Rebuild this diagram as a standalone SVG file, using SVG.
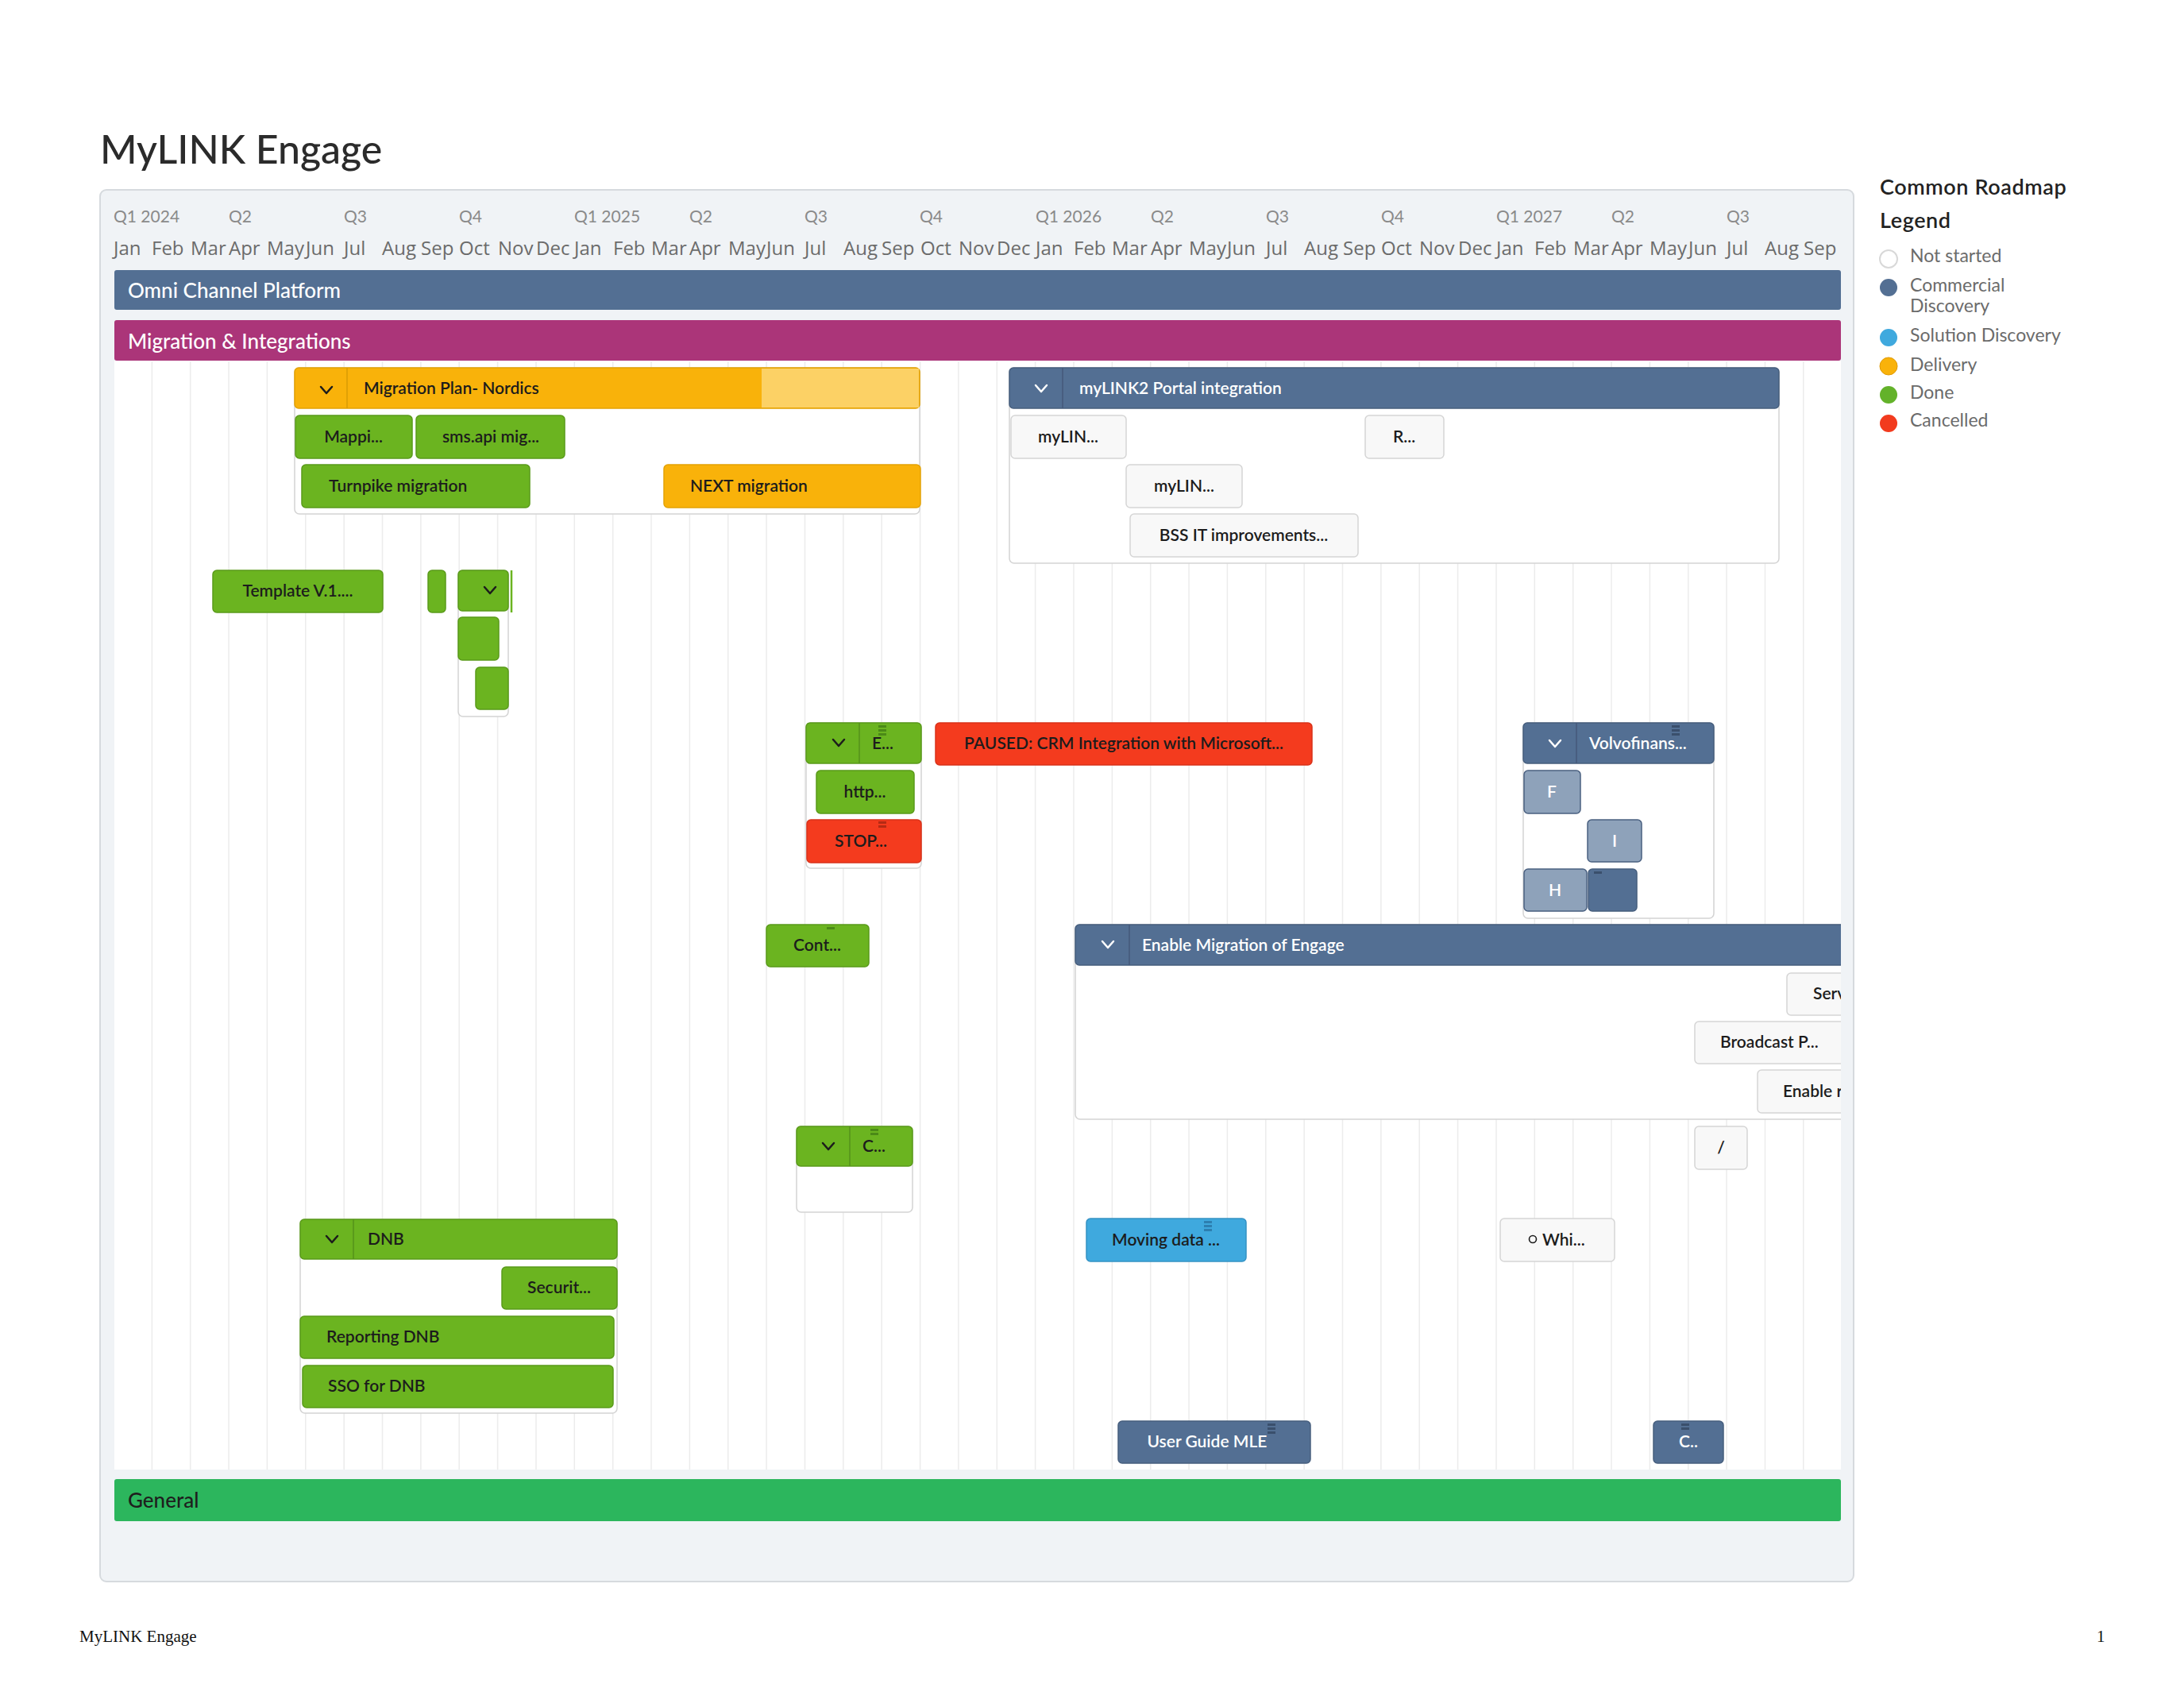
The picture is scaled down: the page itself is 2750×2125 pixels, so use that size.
<svg xmlns="http://www.w3.org/2000/svg" width="2750" height="2125" viewBox="0 0 2750 2125">
<style>
.t{font-family:Lato,"Open Sans","Liberation Sans",sans-serif}
.n{font-family:Lato,"Open Sans","Liberation Sans",sans-serif;font-size:21px;fill:#1c1c1c;font-weight:600}
.nw{font-family:Lato,"Open Sans","Liberation Sans",sans-serif;font-size:21px;fill:#fff;font-weight:600}
.c{text-anchor:middle}
.g{fill:#6bb420;stroke:#5a9a1a;stroke-width:1.5}
.o{fill:#f9b20a;stroke:#e3a205;stroke-width:1.5}
.w{fill:#f8f8f8;stroke:#d5d5d5;stroke-width:1.5}
.r{fill:#f43b1e;stroke:#d9321a;stroke-width:1.5}
.s{fill:#536f93;stroke:#475f7e;stroke-width:1.5}
.ls{fill:#8ea2ba;stroke:#4a6080;stroke-width:1.5}
.b{fill:#3fa9de;stroke:#3592c4;stroke-width:1.5}
.ct{fill:#fff;stroke:#d3d3d3;stroke-width:1.5}
.chev{fill:none;stroke:#1c1c1c;stroke-width:2.5;stroke-linecap:round;stroke-linejoin:round}
.chevw{fill:none;stroke:#fff;stroke-width:2.5;stroke-linecap:round;stroke-linejoin:round}
.grid line{stroke:#ececec;stroke-width:1.5}
.mon{font-family:"Open Sans",Lato,sans-serif;font-size:24px;fill:#6b6b6b}
.q{font-family:Lato,"Open Sans",sans-serif;font-size:21px;fill:#8a8a8a}
.leg{font-family:Lato,"Open Sans",sans-serif;font-size:23px;fill:#6b6b6b}
.bar{font-family:Lato,"Open Sans",sans-serif;font-size:26px;font-weight:500}
</style>
<defs>
<clipPath id="laneclip"><rect x="144" y="330" width="2174" height="1620"/></clipPath>
</defs>
<rect width="2750" height="2125" fill="#fff"/>
<text x="126" y="206" class="t" font-size="50" font-weight="500" fill="#2b2b2b">MyLINK Engage</text>

<rect x="126" y="239" width="2208" height="1752" rx="8" fill="#f0f3f6" stroke="#d6dade" stroke-width="2"/>

<g id="quarters" class="q">
<text x="143" y="280">Q1 2024</text><text x="288" y="280">Q2</text><text x="433" y="280">Q3</text><text x="578" y="280">Q4</text>
<text x="723" y="280">Q1 2025</text><text x="868" y="280">Q2</text><text x="1013" y="280">Q3</text><text x="1158" y="280">Q4</text>
<text x="1304" y="280">Q1 2026</text><text x="1449" y="280">Q2</text><text x="1594" y="280">Q3</text><text x="1739" y="280">Q4</text>
<text x="1884" y="280">Q1 2027</text><text x="2029" y="280">Q2</text><text x="2174" y="280">Q3</text>
</g>
<g id="months" class="mon">
<text x="143" y="321">Jan</text><text x="191" y="321">Feb</text><text x="240" y="321">Mar</text><text x="288" y="321">Apr</text><text x="336" y="321">May</text><text x="385" y="321">Jun</text><text x="433" y="321">Jul</text><text x="481" y="321">Aug</text><text x="530" y="321">Sep</text><text x="578" y="321">Oct</text><text x="627" y="321">Nov</text><text x="675" y="321">Dec</text>
<text x="723" y="321">Jan</text><text x="772" y="321">Feb</text><text x="820" y="321">Mar</text><text x="868" y="321">Apr</text><text x="917" y="321">May</text><text x="965" y="321">Jun</text><text x="1013" y="321">Jul</text><text x="1062" y="321">Aug</text><text x="1110" y="321">Sep</text><text x="1159" y="321">Oct</text><text x="1207" y="321">Nov</text><text x="1255" y="321">Dec</text>
<text x="1304" y="321">Jan</text><text x="1352" y="321">Feb</text><text x="1400" y="321">Mar</text><text x="1449" y="321">Apr</text><text x="1497" y="321">May</text><text x="1545" y="321">Jun</text><text x="1594" y="321">Jul</text><text x="1642" y="321">Aug</text><text x="1691" y="321">Sep</text><text x="1739" y="321">Oct</text><text x="1787" y="321">Nov</text><text x="1836" y="321">Dec</text>
<text x="1884" y="321">Jan</text><text x="1932" y="321">Feb</text><text x="1981" y="321">Mar</text><text x="2029" y="321">Apr</text><text x="2077" y="321">May</text><text x="2126" y="321">Jun</text><text x="2174" y="321">Jul</text><text x="2222" y="321">Aug</text><text x="2271" y="321">Sep</text>
</g>

<g id="lane-omni">
<rect x="144" y="340" width="2174" height="50" rx="3" fill="#536f93"/>
<text x="161" y="375" class="bar" fill="#fff">Omni Channel Platform</text>
</g>

<g id="lane-migration">
<rect x="144" y="454" width="2174" height="1396" fill="#fff"/>
<g class="grid">
<line x1="191.4" y1="455" x2="191.4" y2="1850"/><line x1="239.7" y1="455" x2="239.7" y2="1850"/><line x1="288.1" y1="455" x2="288.1" y2="1850"/><line x1="336.4" y1="455" x2="336.4" y2="1850"/><line x1="384.8" y1="455" x2="384.8" y2="1850"/><line x1="433.2" y1="455" x2="433.2" y2="1850"/><line x1="481.5" y1="455" x2="481.5" y2="1850"/><line x1="529.9" y1="455" x2="529.9" y2="1850"/><line x1="578.2" y1="455" x2="578.2" y2="1850"/><line x1="626.6" y1="455" x2="626.6" y2="1850"/><line x1="675" y1="455" x2="675" y2="1850"/>
<line x1="723.3" y1="455" x2="723.3" y2="1850"/><line x1="771.7" y1="455" x2="771.7" y2="1850"/><line x1="820" y1="455" x2="820" y2="1850"/><line x1="868.4" y1="455" x2="868.4" y2="1850"/><line x1="916.8" y1="455" x2="916.8" y2="1850"/><line x1="965.1" y1="455" x2="965.1" y2="1850"/><line x1="1013.5" y1="455" x2="1013.5" y2="1850"/><line x1="1061.8" y1="455" x2="1061.8" y2="1850"/><line x1="1110.2" y1="455" x2="1110.2" y2="1850"/><line x1="1158.6" y1="455" x2="1158.6" y2="1850"/><line x1="1206.9" y1="455" x2="1206.9" y2="1850"/><line x1="1255.3" y1="455" x2="1255.3" y2="1850"/>
<line x1="1303.6" y1="455" x2="1303.6" y2="1850"/><line x1="1352" y1="455" x2="1352" y2="1850"/><line x1="1400.4" y1="455" x2="1400.4" y2="1850"/><line x1="1448.7" y1="455" x2="1448.7" y2="1850"/><line x1="1497.1" y1="455" x2="1497.1" y2="1850"/><line x1="1545.4" y1="455" x2="1545.4" y2="1850"/><line x1="1593.8" y1="455" x2="1593.8" y2="1850"/><line x1="1642.2" y1="455" x2="1642.2" y2="1850"/><line x1="1690.5" y1="455" x2="1690.5" y2="1850"/><line x1="1738.9" y1="455" x2="1738.9" y2="1850"/><line x1="1787.2" y1="455" x2="1787.2" y2="1850"/><line x1="1835.6" y1="455" x2="1835.6" y2="1850"/>
<line x1="1884" y1="455" x2="1884" y2="1850"/><line x1="1932.3" y1="455" x2="1932.3" y2="1850"/><line x1="1980.7" y1="455" x2="1980.7" y2="1850"/><line x1="2029" y1="455" x2="2029" y2="1850"/><line x1="2077.4" y1="455" x2="2077.4" y2="1850"/><line x1="2125.8" y1="455" x2="2125.8" y2="1850"/><line x1="2174.1" y1="455" x2="2174.1" y2="1850"/><line x1="2222.5" y1="455" x2="2222.5" y2="1850"/><line x1="2270.8" y1="455" x2="2270.8" y2="1850"/>
</g>
<rect x="144" y="403" width="2174" height="51" rx="3" fill="#ab3579"/>
<text x="161" y="439" class="bar" fill="#fff">Migration &amp; Integrations</text>
</g>

<g id="lane-general">
<rect x="144" y="1862" width="2174" height="53" rx="3" fill="#2cb65d"/>
<text x="161" y="1898" class="bar" fill="#1e1e1e">General</text>
</g>

<g id="connectors"/>

<g clip-path="url(#laneclip)">

<g id="grp-migration-plan-nordics">
<rect x="371" y="463" width="787" height="184" rx="6" class="ct"/>
<rect x="371" y="463" width="787" height="51" rx="5" fill="#f9b20a" stroke="#e3a205" stroke-width="1.5"/>
<rect x="959" y="464" width="198" height="49" fill="#fcd165"/>
<line x1="437" y1="463" x2="437" y2="514" stroke="#d99b05" stroke-width="1.5"/>
<path class="chev" d="M404 487 L411 495 L418 487"/>
<text x="458" y="496" class="n">Migration Plan- Nordics</text>
</g>
<g id="node-mappi"><rect x="372" y="523" width="147" height="54" rx="5" class="g"/><text x="445" y="557" class="n c">Mappi...</text></g>
<g id="node-smsapi"><rect x="524" y="523" width="187" height="54" rx="5" class="g"/><text x="618" y="557" class="n c">sms.api mig...</text></g>
<g id="node-turnpike"><rect x="380" y="585" width="287" height="54" rx="5" class="g"/><text x="414" y="619" class="n">Turnpike migration</text></g>
<g id="node-next"><rect x="836" y="585" width="323" height="54" rx="5" class="o"/><text x="869" y="619" class="n">NEXT migration</text></g>

<g id="grp-mylink2">
<rect x="1271" y="463" width="969" height="246" rx="6" class="ct"/>
<rect x="1271" y="463" width="969" height="51" rx="5" class="s"/>
<line x1="1338" y1="463" x2="1338" y2="514" stroke="#44597a" stroke-width="1.5"/>
<path class="chevw" d="M1304 485 L1311 493 L1318 485"/>
<text x="1359" y="496" class="nw">myLINK2 Portal integration</text>
</g>
<g id="node-mylin-1"><rect x="1273" y="523" width="145" height="54" rx="5" class="w"/><text x="1345" y="557" class="n c">myLIN...</text></g>
<g id="node-r"><rect x="1719" y="523" width="99" height="54" rx="5" class="w"/><text x="1768" y="557" class="n c">R...</text></g>
<g id="node-mylin-2"><rect x="1418" y="585" width="146" height="54" rx="5" class="w"/><text x="1491" y="619" class="n c">myLIN...</text></g>
<g id="node-bss"><rect x="1423" y="647" width="287" height="54" rx="5" class="w"/><text x="1566" y="681" class="n c">BSS IT improvements...</text></g>

<g id="node-template"><rect x="268" y="718" width="214" height="53" rx="5" class="g"/><text x="375" y="751" class="n c">Template V.1....</text></g>
<g id="node-small-green"><rect x="539" y="718" width="22" height="53" rx="5" class="g"/></g>
<g id="grp-small">
<rect x="577" y="718" width="63" height="184" rx="6" class="ct"/>
<rect x="577" y="718" width="63" height="51" rx="5" class="g"/>
<line x1="644" y1="718" x2="644" y2="771" stroke="#6bb420" stroke-width="2.5"/>
<path class="chev" d="M610 739 L617 747 L624 739"/>
</g>
<g id="node-sq1"><rect x="577" y="777" width="51" height="54" rx="5" class="g"/></g>
<g id="node-sq2"><rect x="599" y="840" width="41" height="53" rx="5" class="g"/></g>

<g id="grp-e">
<rect x="1015" y="910" width="145" height="183" rx="6" class="ct"/>
<rect x="1015" y="910" width="145" height="51" rx="5" class="g"/>
<line x1="1082" y1="910" x2="1082" y2="961" stroke="#55921a" stroke-width="1.5"/>
<path class="chev" d="M1049 931 L1056 939 L1063 931"/>
<text x="1098" y="943" class="n">E...</text>
<g fill="#4b8a17"><rect x="1106" y="913" width="10" height="3"/><rect x="1106" y="918" width="10" height="3"/><rect x="1106" y="923" width="10" height="3"/></g>
</g>
<g id="node-http"><rect x="1028" y="970" width="123" height="54" rx="5" class="g"/><text x="1089" y="1004" class="n c">http...</text></g>
<g id="node-stop"><rect x="1016" y="1032" width="144" height="54" rx="5" class="r"/><text x="1084" y="1066" class="n c">STOP...</text>
<g fill="#b52a14"><rect x="1106" y="1034" width="10" height="3"/><rect x="1106" y="1039" width="10" height="3"/></g></g>
<g id="node-paused"><rect x="1178" y="910" width="474" height="53" rx="5" class="r"/><text x="1415" y="943" class="n c">PAUSED: CRM Integration with Microsoft...</text></g>

<g id="grp-volvofinans">
<rect x="1918" y="910" width="240" height="246" rx="6" class="ct"/>
<rect x="1918" y="910" width="240" height="51" rx="5" class="s"/>
<line x1="1985" y1="910" x2="1985" y2="961" stroke="#44597a" stroke-width="1.5"/>
<path class="chevw" d="M1951 932 L1958 940 L1965 932"/>
<text x="2001" y="943" class="nw">Volvofinans...</text>
<g fill="#3a4f6c"><rect x="2105" y="913" width="10" height="3"/><rect x="2105" y="918" width="10" height="3"/><rect x="2105" y="923" width="10" height="3"/></g>
</g>
<g id="node-f"><rect x="1919" y="970" width="71" height="54" rx="5" class="ls"/><text x="1954" y="1004" class="nw c">F</text></g>
<g id="node-i"><rect x="1999" y="1032" width="68" height="53" rx="5" class="ls"/><text x="2033" y="1066" class="nw c">I</text></g>
<g id="node-h"><rect x="1919" y="1094" width="79" height="53" rx="5" class="ls"/><text x="1958" y="1128" class="nw c">H</text></g>
<g id="node-dark"><rect x="2000" y="1094" width="61" height="53" rx="5" class="s"/><rect x="2007" y="1097" width="10" height="3" fill="#3a4f6c"/></g>

<g id="node-cont"><rect x="965" y="1164" width="129" height="53" rx="5" class="g"/><text x="1029" y="1197" class="n c">Cont...</text>
<rect x="1041" y="1167" width="10" height="3" fill="#4b8a17"/></g>

<g id="grp-enable-migration">
<rect x="1354" y="1164" width="1000" height="245" rx="6" class="ct"/>
<rect x="1354" y="1164" width="1000" height="51" rx="5" class="s"/>
<line x1="1422" y1="1164" x2="1422" y2="1215" stroke="#44597a" stroke-width="1.5"/>
<path class="chevw" d="M1388 1185 L1395 1193 L1402 1185"/>
<text x="1438" y="1197" class="nw">Enable Migration of Engage</text>
</g>
<g id="node-serv"><rect x="2250" y="1225" width="120" height="53" rx="5" class="w"/><text x="2283" y="1258" class="n">Serv</text></g>
<g id="node-broadcast"><rect x="2134" y="1286" width="220" height="53" rx="5" class="w"/><text x="2166" y="1319" class="n">Broadcast P...</text></g>
<g id="node-enable-r"><rect x="2213" y="1347" width="140" height="54" rx="5" class="w"/><text x="2245" y="1381" class="n">Enable r</text></g>
<g id="node-slash"><rect x="2134" y="1418" width="66" height="54" rx="5" class="w"/><text x="2167" y="1452" class="n c">/</text></g>

<g id="grp-c">
<rect x="1003" y="1418" width="146" height="108" rx="6" class="ct"/>
<rect x="1003" y="1418" width="146" height="50" rx="5" class="g"/>
<line x1="1070" y1="1418" x2="1070" y2="1468" stroke="#55921a" stroke-width="1.5"/>
<path class="chev" d="M1036 1439 L1043 1447 L1050 1439"/>
<text x="1086" y="1450" class="n">C...</text>
<g fill="#4b8a17"><rect x="1096" y="1421" width="10" height="3"/><rect x="1096" y="1426" width="10" height="3"/></g>
</g>

<g id="grp-dnb">
<rect x="378" y="1535" width="399" height="244" rx="6" class="ct"/>
<rect x="378" y="1535" width="399" height="50" rx="5" class="g"/>
<line x1="445" y1="1535" x2="445" y2="1585" stroke="#55921a" stroke-width="1.5"/>
<path class="chev" d="M411 1556 L418 1564 L425 1556"/>
<text x="463" y="1567" class="n">DNB</text>
</g>
<g id="node-securit"><rect x="632" y="1595" width="145" height="53" rx="5" class="g"/><text x="704" y="1628" class="n c">Securit...</text></g>
<g id="node-reporting"><rect x="378" y="1657" width="395" height="53" rx="5" class="g"/><text x="411" y="1690" class="n">Reporting DNB</text></g>
<g id="node-sso"><rect x="381" y="1719" width="391" height="53" rx="5" class="g"/><text x="413" y="1752" class="n">SSO for DNB</text></g>

<g id="node-moving"><rect x="1368" y="1534" width="201" height="54" rx="5" class="b"/><text x="1468" y="1568" class="n c">Moving data ...</text>
<g fill="#2d7fb0"><rect x="1516" y="1537" width="10" height="3"/><rect x="1516" y="1542" width="10" height="3"/><rect x="1516" y="1547" width="10" height="3"/></g></g>
<g id="node-whi"><rect x="1889" y="1534" width="144" height="54" rx="5" class="w"/><circle cx="1930" cy="1560" r="4.5" fill="none" stroke="#1c1c1c" stroke-width="1.6"/><text x="1942" y="1568" class="n">Whi...</text></g>

<g id="node-userguide"><rect x="1408" y="1789" width="242" height="53" rx="5" class="s"/><text x="1520" y="1822" class="nw c">User Guide MLE</text>
<g fill="#3a4f6c"><rect x="1596" y="1792" width="10" height="3"/><rect x="1596" y="1797" width="10" height="3"/><rect x="1596" y="1802" width="10" height="3"/></g></g>
<g id="node-c2"><rect x="2082" y="1789" width="88" height="53" rx="5" class="s"/><text x="2126" y="1822" class="nw c">C..</text>
<g fill="#3a4f6c"><rect x="2117" y="1792" width="10" height="3"/><rect x="2117" y="1797" width="10" height="3"/></g></g>

</g>

<g id="legend">
<text x="2367" y="245" class="t" font-size="27" font-weight="600" fill="#222" letter-spacing="0.6">Common Roadmap</text>
<text x="2367" y="287" class="t" font-size="27" font-weight="600" fill="#222" letter-spacing="0.6">Legend</text>
<circle cx="2378" cy="326" r="11" fill="#fff" stroke="#d8d8d8" stroke-width="2"/>
<text x="2405" y="330" class="leg">Not started</text>
<circle cx="2378" cy="362" r="11" fill="#536f93"/>
<text x="2405" y="367" class="leg">Commercial</text>
<text x="2405" y="393" class="leg">Discovery</text>
<circle cx="2378" cy="425" r="11" fill="#3fa9de"/>
<text x="2405" y="430" class="leg">Solution Discovery</text>
<circle cx="2378" cy="461" r="11" fill="#f9b20a" stroke="#e09a05" stroke-width="1"/>
<text x="2405" y="467" class="leg">Delivery</text>
<circle cx="2378" cy="497" r="11" fill="#63b22a"/>
<text x="2405" y="502" class="leg">Done</text>
<circle cx="2378" cy="533" r="11" fill="#f23b1e"/>
<text x="2405" y="537" class="leg">Cancelled</text>
</g>

<text x="100" y="2067" font-family="Liberation Serif,DejaVu Serif,serif" font-size="21" fill="#111">MyLINK Engage</text>
<text x="2640" y="2067" font-family="Liberation Serif,DejaVu Serif,serif" font-size="21" fill="#111">1</text>
</svg>
